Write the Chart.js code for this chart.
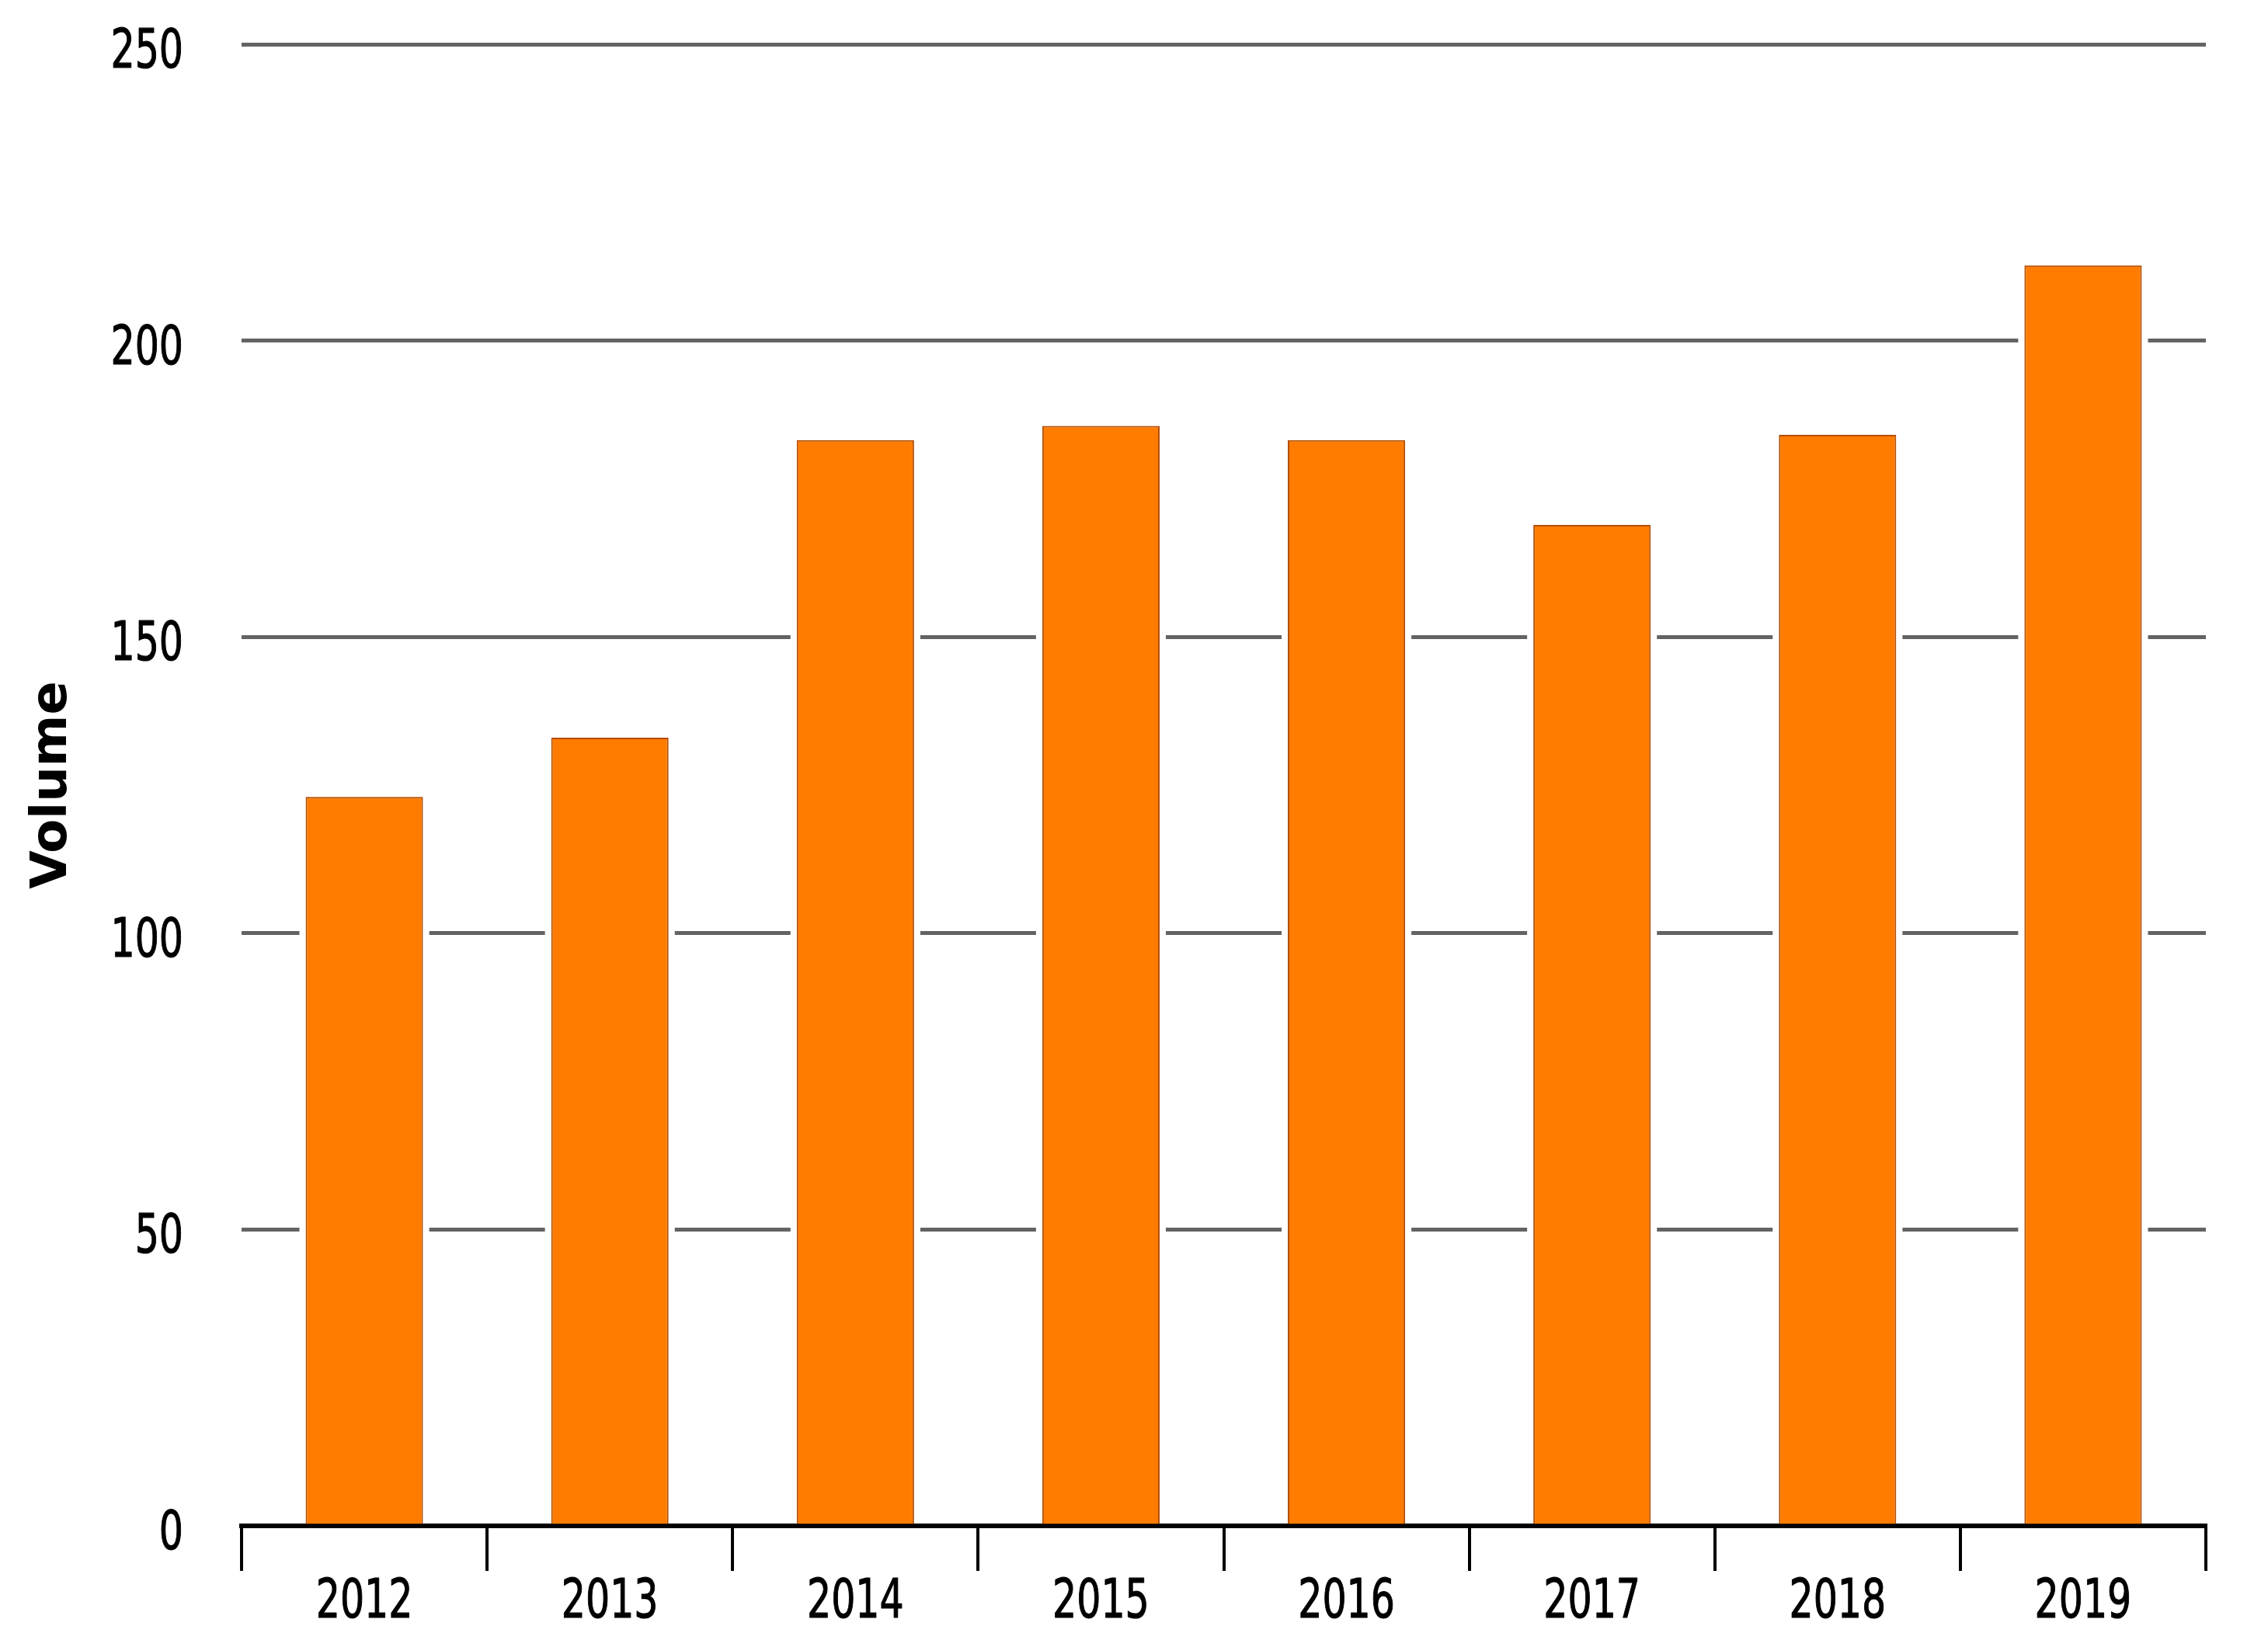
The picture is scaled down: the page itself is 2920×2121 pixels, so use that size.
<!DOCTYPE html>
<html>
<head>
<meta charset="utf-8">
<title>Volume by year</title>
<script src="https://cdn.jsdelivr.net/npm/chart.js@4.4.1/dist/chart.umd.min.js"></script>
<style>
  html, body { margin: 0; padding: 0; background: #ffffff; }
  canvas { display: block; }
</style>
</head>
<body>
<canvas id="volumeChart" width="2920" height="2121"></canvas>
<script>
// Data
const years = ['2012', '2013', '2014', '2015', '2016', '2017', '2018', '2019'];
const volumes = [123, 133, 183.2, 185.6, 183.2, 168.9, 184.1, 212.7];
const yMin = 0;
const yMax = 250;
const yStep = 50;

// tick labels in the original are a narrow, medium-weight face:
// squeeze DejaVu Sans and thicken it a little with an outline
const tickFont = "70px 'DejaVu Sans', sans-serif";
const squeeze = 0.7;

// white gap where the grid lines meet the bars
const barGap = {
    id: 'barGap',
    beforeDatasetsDraw(chart) {
        const ctx = chart.ctx;
        ctx.save();
        ctx.fillStyle = '#ffffff';
        chart.getDatasetMeta(0).data.forEach(bar => {
            const p = bar.getProps(['x', 'y', 'base', 'width'], true);
            ctx.fillRect(p.x - p.width / 2 - 8, p.y, p.width + 16, p.base - p.y - 4);
        });
        ctx.restore();
    }
};

function drawNarrow(ctx, text, x, y) {
    ctx.save();
    ctx.translate(x, y);
    ctx.scale(squeeze, 1);
    ctx.fillText(text, 0, 0);
    ctx.strokeText(text, 0, 0);
    ctx.restore();
}

// draw the tick labels from the scales, horizontally condensed
const narrowTicks = {
    id: 'narrowTicks',
    afterDraw(chart) {
        const ctx = chart.ctx;
        const xs = chart.scales.x;
        const ys = chart.scales.y;
        ctx.save();
        ctx.font = tickFont;
        ctx.fillStyle = '#000000';
        ctx.strokeStyle = '#000000';
        ctx.lineWidth = 1.2;
        ctx.lineJoin = 'round';
        ctx.textBaseline = 'alphabetic';

        ctx.textAlign = 'right';
        ys.ticks.forEach((t, i) => {
            drawNarrow(ctx, String(t.value), 236, ys.getPixelForTick(i) + 30);
        });

        ctx.textAlign = 'center';
        xs.ticks.forEach((t, i) => {
            drawNarrow(ctx, xs.getLabelForValue(t.value), xs.getPixelForTick(i), 2083);
        });
        ctx.restore();
    }
};

const config = {
    type: 'bar',
    data: {
        labels: years,
        datasets: [{
            label: 'Volume',
            data: volumes,
            backgroundColor: '#FF7C00',
            borderColor: '#B44C00',
            borderWidth: 2,
            categoryPercentage: 1,
            barPercentage: 0.478
        }]
    },
    options: {
        responsive: false,
        devicePixelRatio: 1,
        animation: false,
        layout: {
            padding: { top: 57, right: 80, bottom: 0, left: 0 }
        },
        plugins: {
            legend: { display: false },
            tooltip: { enabled: false }
        },
        scales: {
            x: {
                grid: {
                    offset: true,
                    drawOnChartArea: false,
                    drawTicks: true,
                    tickLength: 58,
                    color: '#000000',
                    lineWidth: 4
                },
                border: { display: true, color: '#000000', width: 6 },
                ticks: { display: false },
                afterFit: function (scale) {
                    scale.height = 156;
                }
            },
            y: {
                min: yMin,
                max: yMax,
                grid: {
                    drawTicks: false,
                    color: '#636363',
                    lineWidth: 5
                },
                border: { display: false },
                ticks: { display: false, stepSize: yStep },
                title: {
                    display: true,
                    text: 'Volume',
                    color: '#000000',
                    padding: { top: 30, bottom: 0 },
                    font: { family: "'DejaVu Sans', sans-serif", size: 64, weight: 'bold', lineHeight: 1.2 }
                },
                afterFit: function (scale) {
                    scale.width = 311;
                }
            }
        }
    },
    plugins: [barGap, narrowTicks]
};

const volumeChart = new Chart(document.getElementById('volumeChart'), config);
</script>
</body>
</html>
